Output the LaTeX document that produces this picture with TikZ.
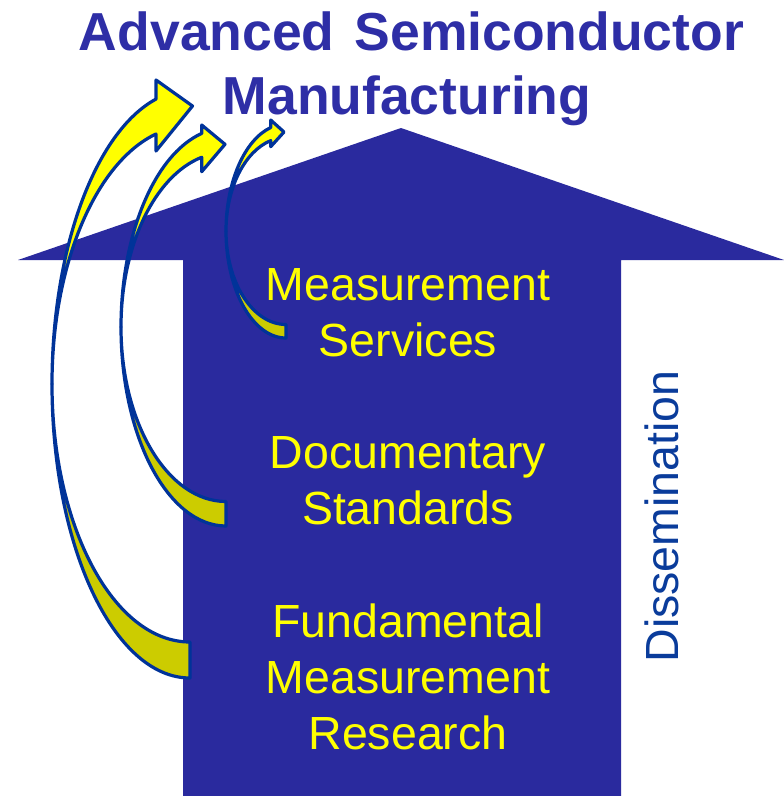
\documentclass[tikz,border=0pt]{standalone}
\usepackage{fontspec}
\setmainfont{Liberation Sans}
\definecolor{arrowblue}{RGB}{42,42,158}
\definecolor{titleblue}{RGB}{46,46,166}
\definecolor{lineblue}{RGB}{0,51,153}
\definecolor{dissblue}{RGB}{10,60,155}
\definecolor{brightyellow}{RGB}{255,255,0}
\definecolor{darkyellow}{RGB}{204,204,0}
\begin{document}
\begin{tikzpicture}[x=1pt,y=-1pt,
  curvedpart/.style={draw=lineblue, line width=3.2pt, line join=round},
  lowerpart/.style={curvedpart, fill=darkyellow},
  upperpart/.style={curvedpart, fill=brightyellow},
  titletext/.style={text=titleblue, font=\fontsize{53.5}{64}\selectfont\bfseries, inner sep=0, anchor=base},
  bodytext/.style={text=brightyellow, font=\fontsize{46.5}{56}\selectfont, inner sep=0, anchor=base},
  sidetext/.style={text=dissblue, font=\fontsize{46.5}{56}\selectfont, inner sep=0, anchor=base, rotate=90}]
\useasboundingbox (0,0) rectangle (784,796);
% big house-shaped arrow
\fill[arrowblue] (183,796) -- (183,260) -- (18,260) -- (401,128) -- (784,260)
  -- (621,260) -- (621,796) -- cycle;
% title
\node[titletext] (t1) at (411.5,50) {Advanced\hspace{20pt}Semiconductor};
\node[titletext] (t2) at (407,114) {Manufacturing};
% curved arrow 1 (large)
\pgfmathsetmacro\tna{180+acos((190-156)/138)}
\draw[lowerpart] (190,678) arc[start angle=90, end angle=180, x radius=138, y radius=294]
  arc[start angle=180, end angle=90, x radius=138, y radius=258] -- cycle;
\draw[upperpart] (52,384) arc[start angle=180, end angle=\tna, x radius=138, y radius=294]
  -- (156,80) -- (192.5,106) -- (156,151)
  -- ({190+138*cos(\tna)},{384+258*sin(\tna)})
  arc[start angle=\tna, end angle=180, x radius=138, y radius=258] -- cycle;
% curved arrow 2 (middle)
\pgfmathsetmacro\tnb{180+acos((226-201.7)/105)}
\draw[lowerpart] (226,526) arc[start angle=90, end angle=180, x radius=105, y radius=199]
  arc[start angle=180, end angle=90, x radius=105, y radius=174.5] -- cycle;
\draw[upperpart] (121,327) arc[start angle=180, end angle=\tnb, x radius=105, y radius=199]
  -- (201.7,125) -- (225,144.3) -- (201.7,171.7)
  -- ({226+105*cos(\tnb)},{327+174.5*sin(\tnb)})
  arc[start angle=\tnb, end angle=180, x radius=105, y radius=174.5] -- cycle;
% curved arrow 3 (small)
\pgfmathsetmacro\tnc{180+acos((286-270.7)/60)}
\draw[lowerpart] (286,338) arc[start angle=90, end angle=180, x radius=60, y radius=107]
  arc[start angle=180, end angle=90, x radius=60, y radius=93.5] -- cycle;
\draw[upperpart] (226,231) arc[start angle=180, end angle=\tnc, x radius=60, y radius=107]
  -- (270.7,120) -- (284,132) -- (270.7,146.7)
  -- ({286+60*cos(\tnc)},{231+93.5*sin(\tnc)})
  arc[start angle=\tnc, end angle=180, x radius=60, y radius=93.5] -- cycle;
% body texts
\node[bodytext] (ms1) at (408,300) {Measurement};
\node[bodytext] (ms2) at (408,356) {Services};
\node[bodytext] (ds1) at (408,468) {Documentary};
\node[bodytext] (ds2) at (408,524) {Standards};
\node[bodytext] (fm1) at (408,637) {Fundamental};
\node[bodytext] (fm2) at (408,693) {Measurement};
\node[bodytext] (fm3) at (408,749) {Research};
\node[sidetext] (dis) at (678,516.5) {Dissemination};
\end{tikzpicture}
\end{document}
